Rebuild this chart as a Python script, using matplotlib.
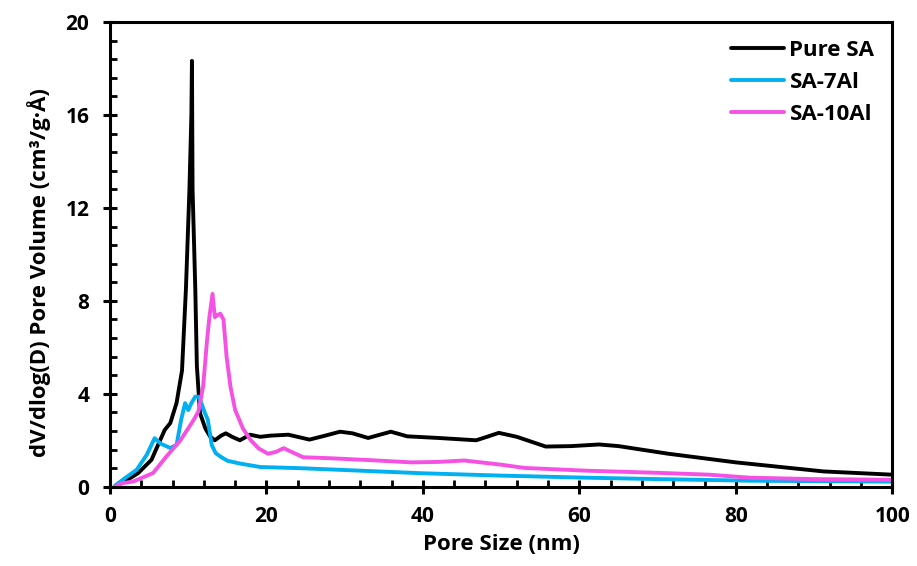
import matplotlib
matplotlib.use("Agg")
import matplotlib.pyplot as plt
from matplotlib.ticker import MultipleLocator

plt.rcParams['font.family'] = ['Open Sans', 'DejaVu Sans']
plt.rcParams['font.weight'] = 'bold'

# pore size distribution (nm vs dV/dlog(D))
pure_x = [0.6, 2, 3.6, 5.3, 6.4, 7.0, 7.7, 8.5, 9.2, 9.7, 10.15, 10.4, 10.47, 10.55,
          10.9, 11.1, 11.5, 12.2, 12.8, 13.4, 14.2, 14.8, 15.6, 16.6, 17.9, 19.2, 20.5,
          22.8, 25.5, 27.5, 29.4, 31, 33, 35.9, 38, 42, 46.8, 48.2, 49.7, 52, 55.7, 59,
          62.5, 65, 71.4, 80, 91.2, 100]
pure_y = [0, 0.25, 0.59, 1.16, 2.0, 2.45, 2.74, 3.6, 5.0, 8.5, 12.8, 16, 18.33, 12.8,
          8.5, 5.2, 3.17, 2.5, 2.16, 2.0, 2.2, 2.3, 2.15, 2.0, 2.24, 2.15, 2.2,
          2.24, 2.03, 2.2, 2.37, 2.3, 2.1, 2.37, 2.17, 2.1, 2.0, 2.15, 2.32, 2.15, 1.73, 1.75,
          1.82, 1.75, 1.42, 1.05, 0.66, 0.52]

al7_x = [0.6, 1.9, 3.4, 4.7, 5.5, 5.7, 6.5, 7.7, 8.5, 9.1, 9.6, 10.0, 10.4, 10.9, 11.3,
         11.6, 12.1, 12.5, 13.0, 13.5, 14.1, 15, 16.6, 19.2, 24.3, 30, 40, 50, 61, 70, 82, 100]
al7_y = [0.04, 0.37, 0.73, 1.38, 1.95, 2.09, 1.85, 1.67, 1.8, 2.9, 3.6, 3.3, 3.6, 3.88, 3.87,
         3.67, 3.2, 2.88, 1.8, 1.45, 1.3, 1.12, 1.0, 0.85, 0.8, 0.72, 0.58, 0.48, 0.39, 0.33, 0.26, 0.22]

al10_x = [0.6, 1.5, 3.0, 5.5, 7.2, 9.0, 10.7, 11.3, 11.9, 12.4, 12.7, 13.1, 13.4, 13.8, 14.1,
          14.5, 14.9, 15.4, 16.0, 17.0, 18.0, 19.0, 20.2, 21.2, 22.2, 23.2, 24.7, 28, 33, 38.5,
          42, 45.3, 47.4, 50, 53, 61, 70, 76.6, 81.8, 90, 100]
al10_y = [0, 0.15, 0.23, 0.59, 1.3, 2.0, 2.88, 3.24, 4.31, 6.3, 7.3, 8.3, 7.3, 7.4, 7.45,
          7.2, 5.6, 4.3, 3.3, 2.5, 2.0, 1.65, 1.42, 1.5, 1.66, 1.5, 1.27, 1.23, 1.15, 1.05,
          1.07, 1.13, 1.05, 0.95, 0.81, 0.69, 0.6, 0.52, 0.39, 0.33, 0.3]

fig = plt.figure(figsize=(9.17, 5.66), dpi=100)
ax = fig.add_axes([0.12, 0.14, 0.853, 0.821])

ax.plot(pure_x, pure_y, color="black", lw=2.8, label="Pure SA", solid_capstyle="round")
ax.plot(al7_x, al7_y, color="#00B0F0", lw=2.8, label="SA-7Al", solid_capstyle="round")
ax.plot(al10_x, al10_y, color="#F552E3", lw=2.8, label="SA-10Al", solid_capstyle="round")

ax.set_xlim(0, 100)
ax.set_ylim(0, 20)
ax.xaxis.set_major_locator(MultipleLocator(20))
ax.xaxis.set_minor_locator(MultipleLocator(4))
ax.yaxis.set_major_locator(MultipleLocator(4))
ax.yaxis.set_minor_locator(MultipleLocator(0.8))

ax.tick_params(which="major", direction="inout", length=10, width=2.2, labelsize=15)
ax.tick_params(axis="x", which="major", pad=9)
ax.tick_params(axis="y", which="major", pad=10)
ax.tick_params(which="minor", direction="in", length=5, width=2.0)
for s in ax.spines.values():
    s.set_linewidth(2.2)

ax.set_xlabel("Pore Size (nm)", fontsize=16, fontweight="bold", labelpad=5)
ax.set_ylabel("dV/dlog(D) Pore Volume (cm³/g·Å)", fontsize=16, fontweight="bold")
ax.yaxis.set_label_coords(-0.076, 0.46)

ax.legend(loc="upper right", frameon=False, fontsize=16, handlelength=2.4,
          handletextpad=0.25, labelspacing=0.5, borderaxespad=0.4)

plt.savefig("out.png", dpi=100)
plt.close()
